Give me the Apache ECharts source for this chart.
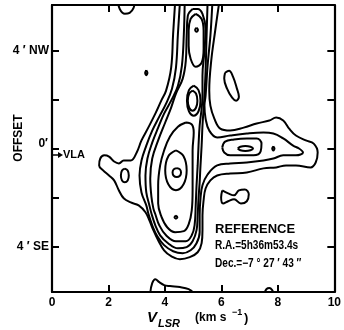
<!DOCTYPE html>
<html>
<head>
<meta charset="utf-8">
<script src="https://cdn.jsdelivr.net/npm/echarts@6/dist/echarts.min.js"></script>
<style>
html, body { margin: 0; background: #fff; }
#main { width: 344px; height: 330px; }
</style>
</head>
<body>
<div id="main"></div>
<script>
// axes: velocity (km/s) and offset (arcmin)
var velTicks = [0, 2, 4, 6, 8, 10];
var offTicks = [-4, -2, 0, 2, 4];
var offLabelAt = [-4, 4];
var offLabels = { '4': '4 \u2032 NW', '-4': '4 \u2032 SE' };

// contour lines, points are [v_lsr, offset]
// outermost level, ridge + both arms (runs off the top)
var lev1 = [[4.36,5.94],[4.29,4.67],[4.22,3.29],[4.04,2.36],[3.87,1.95],[3.66,1.42],[3.41,0.85],[3.17,0.33],[3.00,-0.16],[2.79,-0.49],[2.54,-0.49],[2.37,-0.61],[2.20,-0.53],[2.02,-0.33],[1.85,-0.28],[1.71,-0.41],[1.67,-0.69],[1.81,-0.89],[2.02,-1.10],[2.20,-1.30],[2.37,-1.71],[2.54,-2.03],[2.79,-2.20],[3.07,-2.32],[3.31,-2.60],[3.45,-2.93],[3.59,-3.33],[3.76,-3.74],[3.97,-4.15],[4.22,-4.39],[4.53,-4.51],[4.88,-4.43],[5.16,-4.23],[5.30,-3.86],[5.33,-3.33],[5.33,-2.72],[5.37,-2.11],[5.44,-1.63],[5.61,-1.30],[5.85,-1.10],[6.31,-1.02],[6.90,-0.98],[7.49,-0.81],[7.94,-0.77],[8.29,-0.69],[8.64,-0.69],[9.16,-0.77],[9.34,-0.57],[9.41,-0.16],[9.27,0.20],[8.99,0.33],[8.64,0.53],[8.40,0.81],[8.19,1.14],[7.94,1.26],[7.70,1.14],[7.25,1.02],[6.79,0.85],[6.31,0.73],[5.96,0.81],[5.75,1.22],[5.61,1.75],[5.57,2.36],[5.64,3.58],[5.78,4.80],[5.92,5.94]];
// second level, ridge + east arm
var lev2 = [[4.53,5.94],[4.46,4.67],[4.39,3.29],[4.25,2.44],[4.04,1.83],[3.80,1.30],[3.55,0.73],[3.34,0.12],[3.17,-0.49],[3.10,-1.10],[3.17,-1.79],[3.34,-2.32],[3.41,-2.64],[3.55,-3.13],[3.73,-3.58],[3.97,-3.94],[4.29,-4.19],[4.63,-4.27],[4.91,-4.15],[5.12,-3.86],[5.23,-3.41],[5.23,-2.72],[5.26,-2.03],[5.33,-1.50],[5.51,-1.06],[5.85,-0.69],[6.31,-0.61],[6.90,-0.57],[7.49,-0.49],[7.84,-0.41],[8.19,-0.28],[8.64,-0.28],[8.89,-0.16],[8.75,0.00],[8.54,0.12],[8.19,0.41],[7.84,0.61],[7.49,0.65],[6.90,0.61],[6.31,0.53],[5.85,0.45],[5.57,0.73],[5.44,1.22],[5.40,1.75],[5.44,2.15],[5.51,3.37],[5.61,4.59],[5.68,5.94]];
// third level, ridge only
var lev3 = [[4.70,5.94],[4.67,4.67],[4.60,3.37],[4.46,2.56],[4.22,1.95],[3.97,1.42],[3.76,0.85],[3.55,0.24],[3.38,-0.41],[3.31,-1.10],[3.34,-1.79],[3.45,-2.32],[3.52,-2.64],[3.66,-3.13],[3.83,-3.54],[4.11,-3.86],[4.46,-4.07],[4.77,-4.02],[4.98,-3.78],[5.12,-3.33],[5.16,-2.72],[5.19,-2.03],[5.23,-1.38],[5.26,-0.69],[5.30,0.12],[5.33,0.93],[5.37,1.63],[5.40,2.15],[5.44,3.17],[5.47,4.39],[5.51,5.94]];
var lev4 = [[4.98,5.69],[4.81,5.41],[4.77,4.59],[4.74,3.58],[4.63,2.85],[4.39,2.24],[4.22,1.67],[4.01,1.06],[3.76,0.33],[3.55,-0.41],[3.48,-1.22],[3.52,-1.95],[3.59,-2.44],[3.66,-2.68],[3.80,-3.13],[4.04,-3.54],[4.39,-3.78],[4.74,-3.78],[4.95,-3.54],[5.05,-3.13],[5.09,-2.32],[5.12,-1.50],[5.16,-0.69],[5.19,0.12],[5.23,0.93],[5.30,1.63],[5.33,2.11],[5.33,2.97],[5.40,3.98],[5.44,4.88],[5.33,5.49],[5.16,5.69]];
// inner loops of the ridge
var northLoop = [[5.09,5.49],[4.91,5.28],[4.84,4.80],[4.84,4.19],[4.91,3.66],[5.09,3.33],[5.30,3.50],[5.37,4.07],[5.37,4.80],[5.30,5.28]];
var northPeak = [[5.12,4.92],[5.17,4.84],[5.12,4.76],[5.07,4.84]];
var knotLoop = [[5.02,2.56],[5.19,2.38],[5.26,1.95],[5.19,1.52],[5.02,1.34],[4.85,1.52],[4.78,1.95],[4.85,2.38]];
var knotPeak = [[4.98,2.36],[5.10,2.24],[5.15,1.95],[5.10,1.66],[4.98,1.54],[4.86,1.66],[4.81,1.95],[4.86,2.24]];
var midLoop = [[4.74,1.06],[4.46,0.89],[4.18,0.49],[3.97,-0.08],[3.83,-0.69],[3.76,-1.50],[3.76,-2.24],[3.87,-2.76],[4.08,-3.21],[4.36,-3.41],[4.67,-3.37],[4.84,-3.09],[4.95,-2.52],[4.98,-1.71],[4.98,-0.89],[4.98,-0.08],[5.02,0.65],[4.95,0.98]];
var midInner = [[4.39,-0.08],[4.66,-0.32],[4.77,-0.89],[4.66,-1.46],[4.39,-1.70],[4.12,-1.46],[4.01,-0.89],[4.12,-0.32]];
var midPeak = [[4.42,-0.80],[4.53,-0.85],[4.57,-0.98],[4.53,-1.11],[4.42,-1.16],[4.31,-1.11],[4.27,-0.98],[4.31,-0.85]];
var southPeak = [[4.39,-2.74],[4.44,-2.80],[4.39,-2.86],[4.34,-2.80]];
// west arm
var westLoop = [[2.58,-0.82],[2.68,-0.90],[2.72,-1.10],[2.68,-1.30],[2.58,-1.38],[2.48,-1.30],[2.44,-1.10],[2.48,-0.90]];
// east arm
var eastLoop = [[6.03,0.04],[6.13,0.28],[6.45,0.37],[6.90,0.41],[7.25,0.41],[7.42,0.20],[7.39,-0.12],[7.14,-0.28],[6.72,-0.28],[6.31,-0.28],[6.10,-0.16]];
var eastPeak = [[6.58,0.00],[6.67,0.07],[6.85,0.10],[7.03,0.07],[7.12,0.00],[7.03,-0.07],[6.85,-0.10],[6.67,-0.07]];
var eastDot = [[7.84,0.08],[7.88,0.00],[7.84,-0.08],[7.80,0.00]];
// isolated patches
var nwDot = [[3.34,3.19],[3.38,3.09],[3.34,2.99],[3.30,3.09]];
var neOval = [[6.13,3.09],[6.27,3.17],[6.41,2.93],[6.55,2.44],[6.62,2.11],[6.52,1.95],[6.38,2.07],[6.20,2.44],[6.10,2.85]];
var seBowtie = [[6.03,-1.71],[6.24,-1.83],[6.45,-1.91],[6.62,-1.71],[6.83,-1.67],[6.97,-1.87],[6.90,-2.15],[6.69,-2.24],[6.45,-2.07],[6.24,-2.15],[6.06,-2.24],[5.99,-1.99]];
var topEdge = [[2.33,6.05],[2.40,5.69],[2.58,5.49],[2.75,5.53],[2.89,5.73],[2.93,6.05]];
var bottomEdge = [[3.48,-5.89],[3.55,-5.49],[3.66,-5.33],[3.80,-5.45],[3.97,-5.57],[4.18,-5.61],[4.53,-5.65],[4.84,-5.73],[5.02,-5.89]];
var bottomBump = [[7.53,-5.89],[7.60,-5.73],[7.70,-5.69],[7.80,-5.77],[7.84,-5.89]];

function ring(d) { return d.concat([d[0]]); }

var openLines = [lev1, lev2, lev3, topEdge, bottomEdge, bottomBump];
var loops = [lev4, northLoop, northPeak, knotLoop, knotPeak, midLoop, midInner, midPeak, southPeak,
  westLoop, eastLoop, eastPeak, eastDot, nwDot, neOval, seBowtie];

var chart = echarts.init(document.getElementById('main'));

var series = [];
openLines.forEach(function (d) {
  series.push({ type: 'line', data: d, smooth: 0.4, symbol: 'none', silent: true,
    lineStyle: { color: '#000', width: 2 } });
});
loops.forEach(function (d) {
  series.push({ type: 'line', data: ring(d), smooth: 0.4, symbol: 'none', silent: true,
    lineStyle: { color: '#000', width: 2 } });
});

var axisLine = { onZero: false, lineStyle: { color: '#000', width: 2.2 } };
var tick = { inside: true, length: 7, lineStyle: { color: '#000', width: 2 } };
var labelFont = { color: '#000', fontSize: 12, fontWeight: 'bold', fontFamily: 'Liberation Sans' };
var txt = function (x, y, text, font, extra) {
  var el = { type: 'text', x: x, y: y,
    style: { text: text, font: font, fill: '#000',
      textAlign: 'left', align: 'left', textVerticalAlign: 'middle', verticalAlign: 'middle' } };
  return Object.assign(el, extra || {});
};

var option = {
  animation: false,
  grid: { left: 52, right: 5, top: 5, bottom: 38 },
  xAxis: [{
    type: 'value', min: 0, max: 10, interval: 2, position: 'bottom',
    axisLine: axisLine, axisTick: tick, splitLine: { show: false },
    axisLabel: Object.assign({ margin: 5 }, labelFont)
  }, {
    type: 'value', min: 0, max: 10, interval: 2, position: 'top',
    axisLine: axisLine, axisTick: tick, splitLine: { show: false },
    axisLabel: { show: false }
  }],
  yAxis: [{
    type: 'value', min: -5.85, max: 5.85, position: 'left',
    axisLine: axisLine, splitLine: { show: false },
    axisTick: Object.assign({ customValues: offTicks }, tick),
    axisLabel: Object.assign({
      margin: 3, customValues: offLabelAt,
      formatter: function (v) { return offLabels[v] || ''; }
    }, labelFont)
  }, {
    type: 'value', min: -5.85, max: 5.85, position: 'right',
    axisLine: axisLine, splitLine: { show: false },
    axisTick: Object.assign({ customValues: offTicks }, tick),
    axisLabel: { show: false }
  }],
  series: series,
  graphic: [
    { type: 'text', x: 19, y: 138, rotation: Math.PI / 2,
      style: { text: 'OFFSET', font: 'bold 12px "Liberation Sans"', fill: '#000',
        textAlign: 'center', align: 'center', textVerticalAlign: 'middle', verticalAlign: 'middle' } },
    { type: 'text', x: 48, y: 144,
      style: { text: '0\u2032', font: 'bold 12px "Liberation Sans"', fill: '#000',
        textAlign: 'right', align: 'right', textVerticalAlign: 'middle', verticalAlign: 'middle' } },
    // arrow marking the VLA position
    { type: 'line', shape: { x1: 53, y1: 155, x2: 60, y2: 155 }, style: { stroke: '#000', lineWidth: 1.5 } },
    { type: 'polygon', shape: { points: [[58, 152], [63, 155], [58, 158]] }, style: { fill: '#000' } },
    txt(63, 155, 'VLA', 'bold 11px "Liberation Sans"'),
    txt(147, 318, 'V', 'italic bold 15px "Liberation Sans"'),
    txt(158, 324, 'LSR', 'italic bold 11px "Liberation Sans"'),
    txt(195, 318, '(km s', 'bold 12px "Liberation Sans"'),
    txt(232, 313, '\u22121', 'bold 9px "Liberation Sans"'),
    txt(244, 318, ')', 'bold 13px "Liberation Sans"'),
    txt(215, 229, 'REFERENCE', 'bold 13px "Liberation Sans"'),
    txt(215, 246, 'R.A.=5h36m53.4s', 'bold 12px "Liberation Sans"', { scaleX: 0.84 }),
    txt(215, 264, 'Dec.=\u22127 \u00b0 27 \u2032 43 \u2033', 'bold 12px "Liberation Sans"', { scaleX: 0.84 })
  ]
};

chart.setOption(option);
</script>
</body>
</html>
